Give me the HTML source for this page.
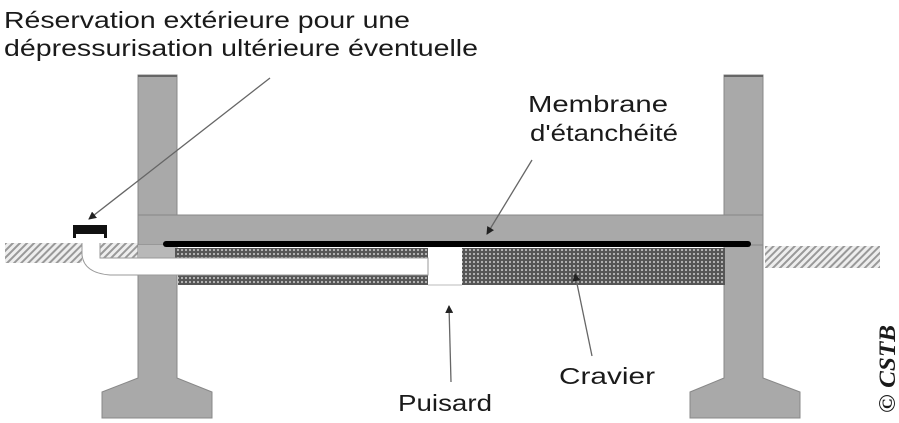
<!DOCTYPE html>
<html><head><meta charset="utf-8"><style>
html,body{margin:0;padding:0;background:#fff;width:899px;height:423px;overflow:hidden}
text{font-family:"Liberation Sans",sans-serif;fill:#1a1a1a}
text.cs{font-family:"Liberation Serif",serif;font-weight:bold;font-style:italic}
</style></head><body>
<svg width="899" height="423" viewBox="0 0 899 423" xmlns="http://www.w3.org/2000/svg">
<defs>
<pattern id="hatch" width="5" height="5" patternUnits="userSpaceOnUse" patternTransform="rotate(45)">
<rect width="5" height="5" fill="#eee"/><rect width="2" height="5" fill="#999"/>
</pattern>
<pattern id="grav" width="4" height="4" patternUnits="userSpaceOnUse">
<rect width="4" height="4" fill="#555"/><circle cx="2" cy="2" r="1.1" fill="#bbb"/>
</pattern>
<marker id="ah" markerWidth="8" markerHeight="8" refX="7" refY="4" orient="auto" markerUnits="userSpaceOnUse">
<path d="M0,0 L8,4 L0,8 Z" fill="#222"/></marker>
</defs>
<rect x="5" y="243" width="77" height="20" fill="url(#hatch)"/>
<rect x="100" y="243" width="38" height="15" fill="url(#hatch)"/>
<rect x="765" y="246" width="115" height="22" fill="url(#hatch)"/>
<path d="M138,75 H177 V378 L212,392 V418 H102 V392 L138,378 Z" fill="#a9a9a9" stroke="#888" stroke-width="1"/>
<rect x="138" y="75" width="39" height="2" fill="#666"/>
<path d="M724,75 H763 V378 L800,392 V418 H690 V392 L724,378 Z" fill="#a9a9a9" stroke="#888" stroke-width="1"/>
<rect x="724" y="75" width="39" height="2" fill="#666"/>
<rect x="138" y="215" width="625" height="30" fill="#a9a9a9" stroke="#888" stroke-width="1"/>
<rect x="138" y="245" width="39" height="13" fill="#b8b8b8"/>
<rect x="163" y="241" width="588" height="6" rx="3" fill="#000"/>
<rect x="175" y="248" width="253" height="10" fill="url(#grav)"/>
<rect x="178" y="275" width="250" height="10" fill="url(#grav)"/>
<rect x="462" y="248" width="263" height="37" fill="url(#grav)"/>
<rect x="428" y="284" width="34" height="2" fill="#ddd"/>
<path d="M82,243 V255 Q84,273 110,275 H428 V258 H100 V243" fill="#fff" stroke="#999" stroke-width="1"/>
<rect x="138" y="259" width="40" height="15" fill="#fff"/>
<rect x="73" y="225" width="34" height="9" fill="#111"/>
<rect x="73" y="225" width="3" height="13" fill="#111"/><rect x="104" y="225" width="3" height="13" fill="#111"/>
<g stroke="#666" stroke-width="1.3" fill="none" marker-end="url(#ah)">
<line x1="270" y1="78" x2="89" y2="219"/>
<line x1="532" y1="160" x2="487" y2="234"/>
<line x1="451" y1="382" x2="449" y2="306"/>
<line x1="592" y1="356" x2="575" y2="274"/>
</g>
<text x="4" y="28" font-size="23.5" textLength="406" lengthAdjust="spacingAndGlyphs">Réservation extérieure pour une</text>
<text x="4" y="56" font-size="23.5" textLength="474" lengthAdjust="spacingAndGlyphs">dépressurisation ultérieure éventuelle</text>
<text x="528" y="112" font-size="23.5" textLength="140" lengthAdjust="spacingAndGlyphs">Membrane</text>
<text x="530" y="141" font-size="23.5" textLength="148" lengthAdjust="spacingAndGlyphs">d'étanchéité</text>
<text x="398" y="411" font-size="23.5" textLength="94" lengthAdjust="spacingAndGlyphs">Puisard</text>
<text x="559" y="384" font-size="23.5" textLength="96" lengthAdjust="spacingAndGlyphs">Cravier</text>
<text class="cs" transform="translate(895,413) rotate(-90)" font-size="23" textLength="88" lengthAdjust="spacingAndGlyphs">© CSTB</text>
</svg>
</body></html>
